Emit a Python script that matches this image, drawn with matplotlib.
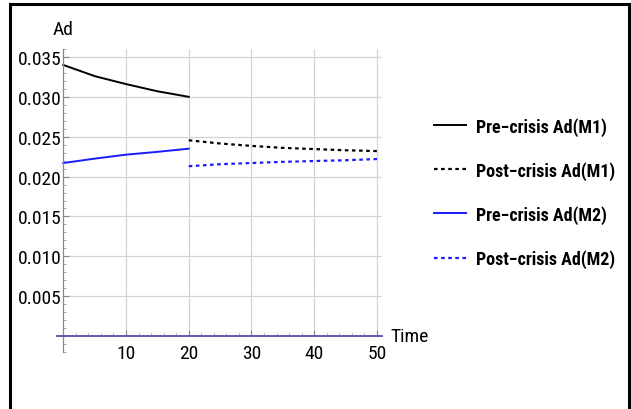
import matplotlib
matplotlib.use("Agg")
import matplotlib.pyplot as plt
from matplotlib.patches import Rectangle
from matplotlib.ticker import MultipleLocator, FixedLocator

FONT = ['Roboto Condensed', 'Archivo Narrow', 'Liberation Sans', 'DejaVu Sans']
plt.rcParams['font.family'] = FONT

# ---- data ----
t_pre = [0, 5, 10, 15, 20]
t_post = [20, 25, 30, 35, 40, 45, 50]
m1_pre = [0.0340, 0.0326, 0.0316, 0.0307, 0.0300]
m1_post = [0.02455, 0.02415, 0.02385, 0.0236, 0.02345, 0.0233, 0.0232]
m2_pre = [0.0217, 0.02225, 0.02275, 0.0231, 0.0235]
m2_post = [0.0213, 0.02155, 0.0217, 0.02185, 0.02195, 0.02205, 0.0222]
labels = ["Pre\u2212crisis Ad(M1)", "Post\u2212crisis Ad(M1)",
          "Pre\u2212crisis Ad(M2)", "Post\u2212crisis Ad(M2)"]
x_ticks = [10, 20, 30, 40, 50]
y_ticks = [0.005, 0.010, 0.015, 0.020, 0.025, 0.030, 0.035]

fig = plt.figure(figsize=(6.31, 4.10), dpi=100)
ax = fig.add_axes([57/631, 57/410, 325/631, 303/410])
ax.set_xlim(-1, 50.8)
ax.set_ylim(-0.002, 0.036)

# grid
for yt in y_ticks:
    ax.axhline(yt, xmin=1 / 51.8, xmax=1, color='#d4d4d4', lw=0.9, zorder=0)
for xt in x_ticks:
    ax.axvline(xt, ymin=0.002 / 0.038, ymax=1, color='#d4d4d4', lw=0.9, zorder=0)

blue = '#1a1aff'
ln1, = ax.plot(t_pre, m1_pre, color='black', lw=1.4)
ln2, = ax.plot(t_post, m1_post, color='black', lw=1.6, linestyle=(0, (1.6, 1.6)))
ln3, = ax.plot(t_pre, m2_pre, color=blue, lw=1.4)
ln4, = ax.plot(t_post, m2_post, color=blue, lw=1.6, linestyle=(0, (1.6, 1.6)))

for s in ['top', 'right']:
    ax.spines[s].set_visible(False)
ax.spines['left'].set_position(('data', 0))
ax.spines['bottom'].set_position(('data', 0))
ax.spines['left'].set_color('#888888')
ax.spines['bottom'].set_color('#5c5caa')
ax.spines['left'].set_linewidth(0.9)
ax.spines['bottom'].set_linewidth(1.4)

ax.xaxis.set_major_locator(FixedLocator(x_ticks))
ax.xaxis.set_minor_locator(MultipleLocator(2))
ax.yaxis.set_major_locator(FixedLocator(y_ticks))
ax.yaxis.set_minor_locator(MultipleLocator(0.001))
ax.set_xticklabels([str(v) for v in x_ticks])
ax.set_yticklabels(["%.3f" % v for v in y_ticks])
ax.tick_params(axis='both', which='major', direction='in', length=4, width=0.8,
               color='#888888', labelsize=14)
ax.tick_params(axis='both', which='minor', direction='in', length=2, width=0.6,
               color='#999999')
ax.tick_params(axis='x', which='major', pad=6)
ax.tick_params(axis='y', which='major', pad=1)

fig.text(63/631, 1 - 30/410, "Ad", fontsize=14, ha='center', va='center')
fig.text(390/631, 1 - 337/410, "Time", fontsize=14, ha='left', va='center')

leg = fig.legend([ln1, ln2, ln3, ln4], labels, loc='upper left',
                 bbox_to_anchor=(434/631, 1 - 118/410), frameon=False,
                 prop={'weight': 'bold', 'size': 13, 'family': FONT},
                 handlelength=1.77, handletextpad=0.55, labelspacing=1.4,
                 borderpad=0, borderaxespad=0)

fig.patches.append(Rectangle((9.5/631, -0.05), 619/631, 1.05 - 4.5/410,
                             transform=fig.transFigure, fill=False,
                             edgecolor='black', lw=2.2, clip_on=False))

fig.savefig("out.png", dpi=100)
